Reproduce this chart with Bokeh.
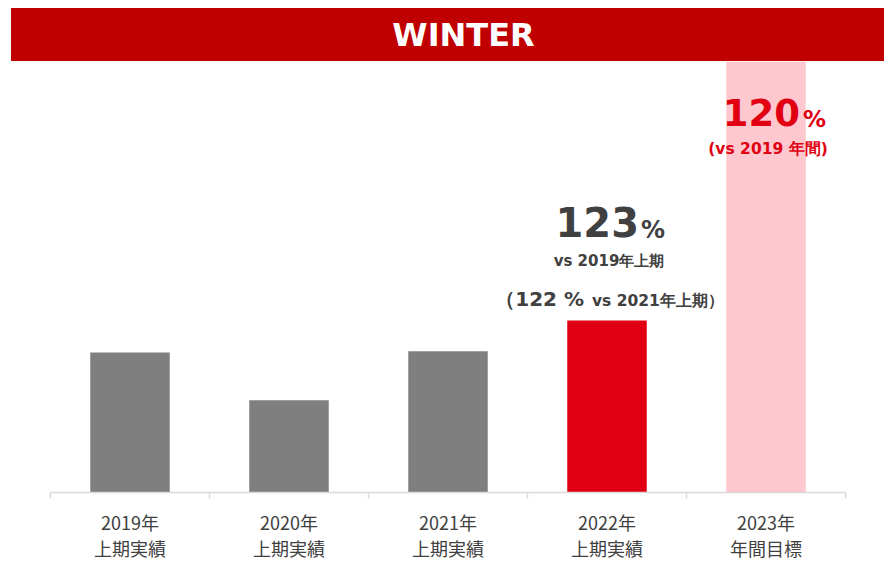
from bokeh.plotting import figure
from bokeh.models import Range1d, LinearAxis, FixedTicker, Div, ColumnDataSource
from bokeh.layouts import column
from bokeh.core.properties import value
from bokeh.embed import file_html
from bokeh.resources import INLINE

# ---- data ----
years = ["2019年", "2020年", "2021年", "2022年", "2023年"]
kinds = ["上期実績", "上期実績", "上期実績", "上期実績", "年間目標"]
values = [100, 66, 101, 123, 308]
bar_colors = ["#7F7F7F", "#7F7F7F", "#7F7F7F", "#E00012", "#FFC7CE"]
title_text = "WINTER"
h1_growth = "123"
h1_growth_note = "vs 2019年上期"
h1_vs2021 = "（122 %"
h1_vs2021_note = "vs 2021年上期）"
target_growth = "120"
target_note = "(vs 2019 年間)"
y_max = 308

categories = [f"{y}\n{k}" for y, k in zip(years, kinds)]
n = len(categories)
centers = [i + 0.5 for i in range(n)]

DARK = "#404040"
RED = "#E00012"
FRAME_H = 431
BASE = 492          # page y of the baseline
PX = FRAME_H / y_max  # pixels per unit


def yb(page_baseline, fs):
    """data y for a text whose baseline should sit at a page pixel row"""
    return (BASE - page_baseline + 0.44 * fs) / PX


header = Div(
    text=(f'<div style="width:873px;height:53px;background:#C00000;color:#ffffff;'
          f'font-family:\'DejaVu Sans\';font-weight:bold;font-size:32px;line-height:55px;'
          f'text-align:center;padding-left:32px;box-sizing:border-box;">{title_text}</div>'),
    width=873, height=53, margin=(8, 0, 0, 11),
)

p = figure(
    x_range=Range1d(0, n),
    y_range=Range1d(0, y_max),
    frame_width=795, frame_height=FRAME_H,
    min_border_left=50, min_border_right=30, min_border_top=0, min_border_bottom=0,
    x_axis_location=None, y_axis_location=None,
    output_backend="svg", toolbar_location=None,
)
p.outline_line_color = None
p.xgrid.visible = False
p.ygrid.visible = False
p.background_fill_color = "white"
p.border_fill_color = "white"

src = ColumnDataSource(dict(x=centers, top=values, color=bar_colors, cat=categories))
p.vbar(x="x", top="top", width=0.5, bottom=0, fill_color="color", line_color=None, source=src)

xaxis = LinearAxis(
    ticker=FixedTicker(ticks=centers, minor_ticks=list(range(n + 1))),
    axis_line_color="#D9D9D9", axis_line_width=1.5,
    major_tick_line_color=None, major_tick_in=0, major_tick_out=6,
    minor_tick_line_color="#D9D9D9", minor_tick_line_width=1.5,
    minor_tick_in=0, minor_tick_out=6,
    major_label_overrides={c: cat for c, cat in zip(centers, categories)},
    major_label_text_font="Noto Sans CJK JP",
    major_label_text_font_size="18px",
    major_label_text_color=DARK,
    major_label_text_line_height=1.0,
    major_label_standoff=10,
    major_label_orientation="horizontal",
)
p.add_layout(xaxis, "below")

bold = dict(text_font=value("DejaVu Sans"), text_font_style="bold", text_baseline="alphabetic")
c22 = centers[3]
c23 = centers[4]

# 2022 annotations
p.text(x=[c22], y=[yb(239, 40)], text=[h1_growth], x_offset=32, text_align="right",
       text_font_size="40px", text_color=DARK, **bold)
p.text(x=[c22], y=[yb(240, 24)], text=["%"], x_offset=34, text_align="left",
       text_font_size="24px", text_color=DARK, **bold)
p.text(x=[c22], y=[yb(267, 15)], text=[h1_growth_note], x_offset=2, text_align="center",
       text_font_size="15px", text_color=DARK, **bold)
p.text(x=[c22], y=[yb(307, 20)], text=[h1_vs2021], x_offset=-23, text_align="right",
       text_font_size="20px", text_color=DARK, **bold)
p.text(x=[c22], y=[yb(307, 15.5)], text=[h1_vs2021_note], x_offset=-15, text_align="left",
       text_font_size="15.5px", text_color=DARK, **bold)

# 2023 annotations
p.text(x=[c23], y=[yb(128, 37)], text=[target_growth], x_offset=34, text_align="right",
       text_font_size="37px", text_color=RED, **bold)
p.text(x=[c23], y=[yb(129, 23)], text=["%"], x_offset=37, text_align="left",
       text_font_size="23px", text_color=RED, **bold)
p.text(x=[c23], y=[yb(155, 15.5)], text=[target_note], x_offset=2, text_align="center",
       text_font_size="15.5px", text_color=RED, **bold)

layout = column(header, p, spacing=0)
open("out.html", "w").write(file_html(layout, INLINE))
